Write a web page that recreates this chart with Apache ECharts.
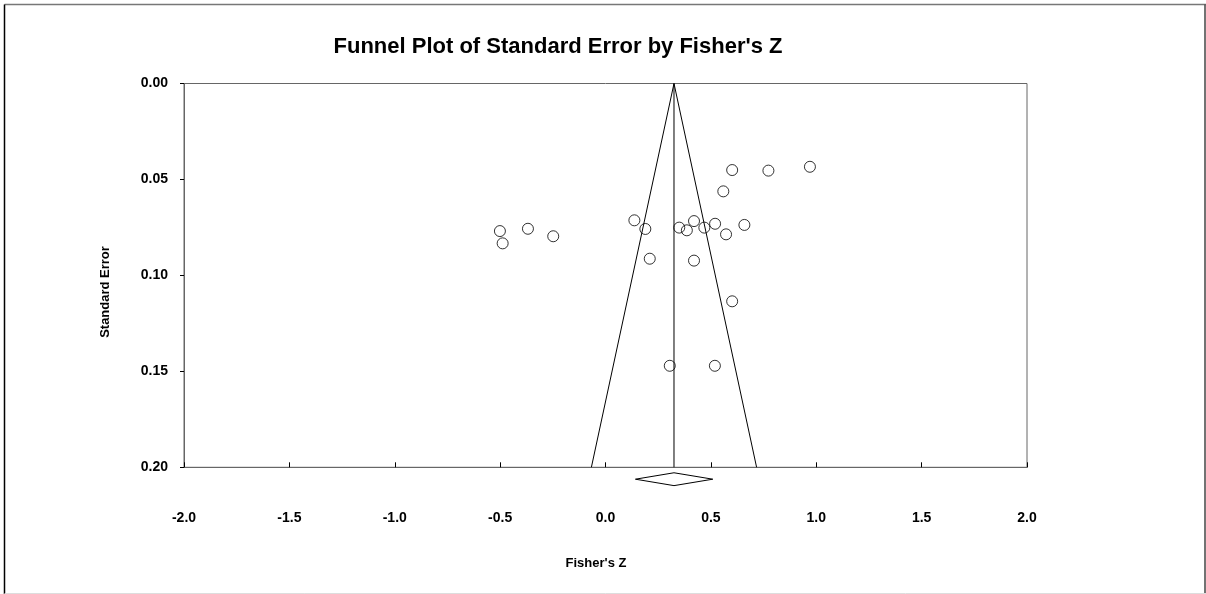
<!DOCTYPE html>
<html><head><meta charset="utf-8">
<script src="https://cdn.jsdelivr.net/npm/echarts@6/dist/echarts.min.js"></script>
<style>html,body{margin:0;padding:0;background:#fff}#c{width:1206px;height:594px}</style>
</head><body><div id="c"></div>
<script>
const fisherZ = [-0.501,-0.488,-0.368,-0.248,0.137,0.189,0.210,0.350,0.386,0.420,0.469,0.520,0.572,0.659,0.420,0.559,0.601,0.773,0.970,0.601,0.305,0.519];
const stdErr  = [0.0769,0.0833,0.0757,0.0796,0.0713,0.0758,0.0913,0.0751,0.0765,0.0717,0.0751,0.0731,0.0786,0.0737,0.0923,0.0562,0.0451,0.0454,0.0434,0.1135,0.1471,0.1471];
const pooledZ = 0.325;
const pooledLow = 0.142, pooledHigh = 0.509;
const xTicks = [-2.0,-1.5,-1.0,-0.5,0.0,0.5,1.0,1.5,2.0];
const yTicks = [0.00,0.05,0.10,0.15,0.20];
const seMax = 0.20;

const points = fisherZ.map((z,i)=>[z,stdErr[i]]);
const funnel = [[pooledZ-1.96*seMax,seMax],[pooledZ,0],[pooledZ+1.96*seMax,seMax]];
const centre = [[pooledZ,0],[pooledZ,seMax]];
const dy = 0.00335, dc = 0.2062;
const diamond = [[pooledLow,dc],[pooledZ,dc-dy],[pooledHigh,dc],[pooledZ,dc+dy],[pooledLow,dc]];

const chart = echarts.init(document.getElementById('c'));
const FF = 'Liberation Sans, Arial, sans-serif';
const lbl = {fontFamily:FF,fontWeight:'bold',fontSize:14,color:'#000'};
chart.setOption({
  animation:false,
  backgroundColor:'#fff',
  grid:{left:184,right:179,top:83.5,bottom:126.7,show:true,borderColor:'#666',borderWidth:1},
  xAxis:{type:'value',min:xTicks[0],max:xTicks[xTicks.length-1],interval:0.5,position:'bottom',
    axisLine:{show:true,onZero:false,lineStyle:{color:'#666'}},
    axisTick:{show:true,inside:true,length:5,lineStyle:{color:'#000'}},
    splitLine:{show:false},
    axisLabel:Object.assign({margin:44,formatter:v=>v.toFixed(1)},lbl)},
  yAxis:{type:'value',inverse:true,min:yTicks[0],max:yTicks[yTicks.length-1],interval:0.05,position:'left',
    axisLine:{show:true,onZero:false,lineStyle:{color:'#666'}},
    axisTick:{show:true,inside:false,length:4,lineStyle:{color:'#000'}},
    splitLine:{show:false},
    axisLabel:Object.assign({margin:16,formatter:v=>v.toFixed(2)},lbl)},
  series:[
    {type:'line',data:funnel,symbol:'none',lineStyle:{color:'#000',width:1},silent:true},
    {type:'line',data:centre,symbol:'none',lineStyle:{color:'#000',width:1},silent:true},
    {type:'line',data:diamond,symbol:'none',clip:false,lineStyle:{color:'#000',width:1},silent:true},
    {type:'scatter',data:points,symbol:'circle',symbolSize:11,
      itemStyle:{color:'rgba(255,255,255,0)',borderColor:'#000',borderWidth:1}}
  ],
  graphic:[
    {type:'line',shape:{x1:4.5,y1:4.5,x2:1206,y2:4.5},style:{stroke:'#777',lineWidth:1.5}},
    {type:'line',shape:{x1:4.5,y1:4.5,x2:4.5,y2:594},style:{stroke:'#000',lineWidth:1.5}},
    {type:'line',shape:{x1:1205,y1:4.5,x2:1205,y2:594},style:{stroke:'#444',lineWidth:1.5}},
    {type:'line',shape:{x1:4.5,y1:593.5,x2:1206,y2:593.5},style:{stroke:'#ddd',lineWidth:1}},
    {type:'text',x:558,y:47,style:{text:"Funnel Plot of Standard Error by Fisher's Z",fontFamily:FF,fontWeight:'bold',fontSize:22,fill:'#000',textAlign:'center',textVerticalAlign:'middle'}},
    {type:'text',x:596,y:563,style:{text:"Fisher's Z",fontFamily:FF,fontWeight:'bold',fontSize:13,fill:'#000',textAlign:'center',textVerticalAlign:'middle'}},
    {type:'text',x:105,y:292,rotation:Math.PI/2,style:{text:"Standard Error",fontFamily:FF,fontWeight:'bold',fontSize:13,fill:'#000',textAlign:'center',textVerticalAlign:'middle'}}
  ]
});
</script></body></html>
